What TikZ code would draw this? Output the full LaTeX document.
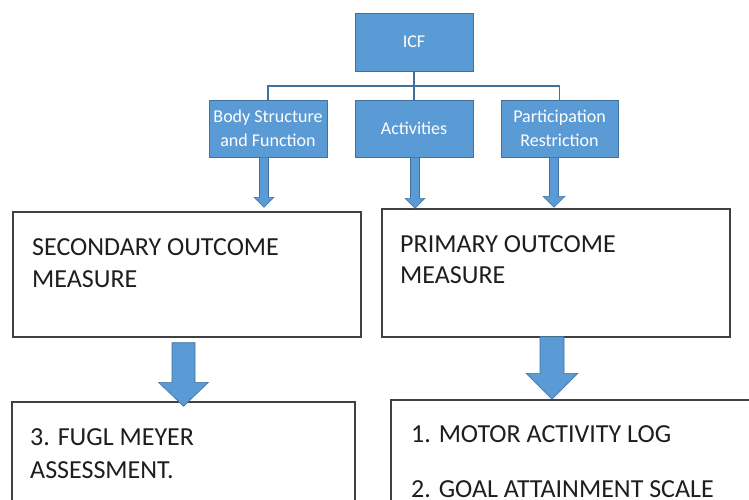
\documentclass[tikz,border=0pt]{standalone}
\usepackage{fontspec}
\setmainfont{Carlito}
\usetikzlibrary{calc}
\definecolor{blu}{HTML}{5B9BD5}
\definecolor{bludk}{HTML}{41719C}
\definecolor{framec}{HTML}{404040}
\definecolor{txt}{HTML}{1E1E1E}
% #1 start, #2 tip, #3 half shaft, #4 half head, #5 head length
\newcommand\blockarr[5]{\draw[blkarrow] let \p1=(#1), \p2=(#2) in
  (\x1-#3pt,\y1) -- (\x1+#3pt,\y1) -- (\x1+#3pt,\y2+#5pt) -- (\x1+#4pt,\y2+#5pt)
  -- (\x1,\y2) -- (\x1-#4pt,\y2+#5pt) -- (\x1-#3pt,\y2+#5pt) -- cycle;}
\begin{document}
\begin{tikzpicture}[x=1pt,y=-1pt,
  bluebox/.style={draw=bludk, line width=0.8pt, fill=blu, text=white,
    minimum width=118pt, minimum height=57pt, inner sep=0pt, align=center,
    font=\fontsize{18}{24}\selectfont},
  outbox/.style={draw=framec, line width=1.4pt, fill=white, rectangle, inner sep=0pt},
  bigtxt/.style={anchor=base west, inner sep=0pt, font=\fontsize{26}{32}\selectfont, text=txt},
  tree/.style={draw=bludk, line width=1.8pt},
  blkarrow/.style={fill=blu, draw=bludk, line width=0.6pt, line join=miter}]
\useasboundingbox (0,0) rectangle (749,499);
\clip (0,0) rectangle (749,499);
\fill[white] (0,0) rectangle (749,499);

% top blue boxes
\node[bluebox, minimum height=58pt] (icf) at (414,42) {ICF};
\node[bluebox] (body) at (268,128.5) {Body Structure\\and Function};
\node[bluebox] (act) at (414,128.5) {Activities};
\node[bluebox, minimum width=117pt] (part) at (559.5,128.5) {Participation\\Restriction};

% tree connector
\draw[tree] (icf.south) -- (act.north);
\draw[tree] (body.north) -- ++(0,-14) -| (part.north);

% outcome boxes
\node[outbox, minimum width=348pt, minimum height=125pt] (sec) at (187,274.5) {};
\node[outbox, minimum width=348pt, minimum height=128pt] (prim) at (556,273) {};
\node[outbox, minimum width=343pt, minimum height=118pt] (fugl) at (183.5,461) {};
\node[outbox, minimum width=389pt, minimum height=120pt] (mot) at (585.5,460) {};

% texts
\node[bigtxt] (t1) at (32,255) {SECONDARY OUTCOME};
\node[bigtxt] (t2) at (32,287) {MEASURE};
\node[bigtxt] (t3) at (400,252) {PRIMARY OUTCOME};
\node[bigtxt] (t4) at (400,283) {MEASURE};
\node[bigtxt] (t5) at (30,445) {3. FUGL MEYER};
\node[bigtxt] (t6) at (30,478) {ASSESSMENT.};
\node[bigtxt] (t7) at (411,442) {1. MOTOR ACTIVITY LOG};
\node[bigtxt] (t8) at (411,497) {2. GOAL ATTAINMENT SCALE};

% small arrows
\coordinate (b0) at ($(body.south)+(-4,0)$);
\coordinate (b1) at ($(sec.north)+(0,-4)$);
\blockarr{b0}{b1}{4.5}{10}{10}
\coordinate (a0) at ($(act.south)+(1,0)$);
\coordinate (a1) at ($(prim.north)+(0,0)$);
\blockarr{a0}{a1}{4.5}{10}{10}
\coordinate (p0) at ($(part.south)+(-5.5,0)$);
\coordinate (p1) at ($(prim.north)+(0,-1)$);
\blockarr{p0}{p1}{4.5}{11}{11}

% big arrows
\coordinate (s0) at ($(sec.south)+(-3.5,5)$);
\coordinate (s1) at ($(fugl.north)+(0,5)$);
\blockarr{s0}{s1}{11.5}{25}{24}
\coordinate (r0) at ($(prim.south)+(-4,-1)$);
\coordinate (r1) at ($(mot.north)+(0,0)$);
\blockarr{r0}{r1}{12}{26}{26}
\end{tikzpicture}
\end{document}
